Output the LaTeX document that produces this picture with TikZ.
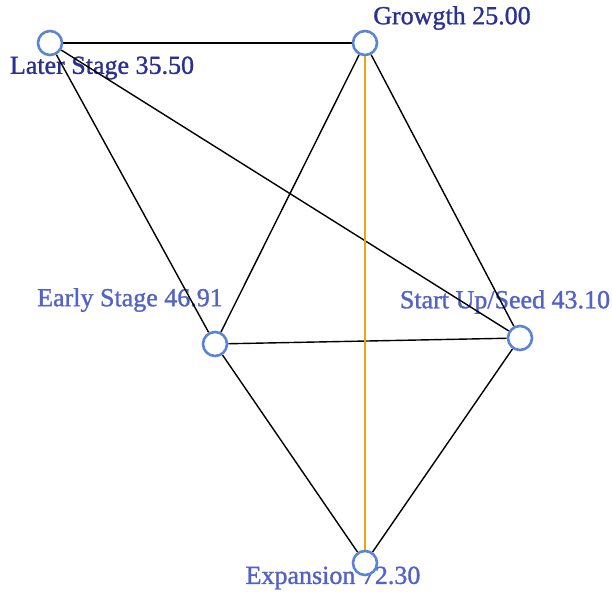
\documentclass[tikz,border=0pt]{standalone}
\usepackage{fontspec}
\setmainfont{Liberation Serif}
\newfontfamily\lblfont[FakeBold=1.2]{Liberation Serif}
\pgfdeclarelayer{labels}
\pgfdeclarelayer{edges}
\pgfsetlayers{labels,edges,main}
\definecolor{ringblue}{HTML}{5B84D4}
\definecolor{navy}{HTML}{2B3190}
\definecolor{softblue}{HTML}{5262C6}
\definecolor{goldline}{HTML}{E8A615}
\tikzset{
  vert/.style={circle, draw=ringblue, line width=2.6pt, fill=white, minimum size=24pt, inner sep=0pt},
  lbl/.style={font=\lblfont\fontsize{26}{29}\selectfont, inner sep=0pt},
  lbldark/.style={lbl, text=navy},
  lbllight/.style={lbl, text=softblue},
  edge/.style={draw=black, line width=1.4pt},
  goldedge/.style={draw=goldline, line width=2.8pt}
}
\begin{document}
\begin{tikzpicture}[x=1pt,y=1pt]
\useasboundingbox (0,0) rectangle (612,595);
\node[vert] (later) at (50,552) {};
\node[vert] (growth) at (365,552) {};
\node[vert] (early) at (215,251) {};
\node[vert] (seed) at (520,257) {};
\node[vert] (exp) at (365,32) {};
\begin{pgfonlayer}{labels}
\node[lbldark] (tlater) at (102,527) {Later Stage 35.50};
\node[lbldark] (tgrowth) at (452,577) {Growgth 25.00};
\node[lbllight] (tearly) at (130,295) {Early Stage 46.91};
\node[lbllight] (tseed) at (505,293) {Start Up/Seed 43.10};
\node[lbllight] (texp) at (333,17) {Expansion 72.30};
\end{pgfonlayer}
\begin{pgfonlayer}{edges}
\draw[edge] (later) -- (growth);
\draw[edge] (later) -- (early);
\draw[edge] (later) -- (seed);
\draw[edge] (growth) -- (early);
\draw[edge] (growth) -- (seed);
\draw[edge] (early) -- (seed);
\draw[edge] (early) -- (exp);
\draw[edge] (seed) -- (exp);
\draw[goldedge] (growth) -- (exp);
\end{pgfonlayer}
\end{tikzpicture}
\end{document}
